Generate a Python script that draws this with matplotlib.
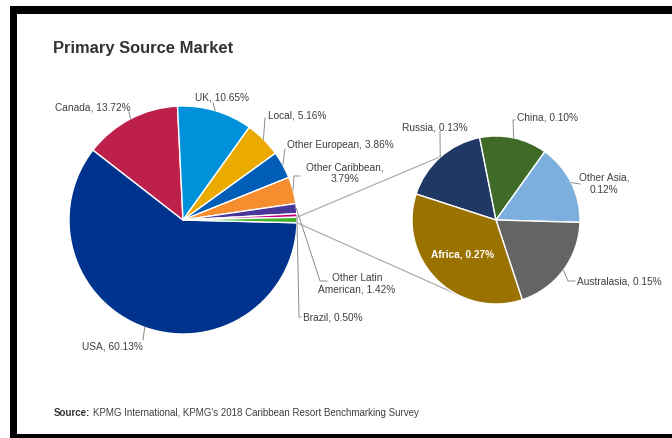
import numpy as np
import matplotlib.pyplot as plt
from matplotlib.patches import Rectangle

plt.rcParams['font.family'] = ['Liberation Sans', 'DejaVu Sans']

# ── data ────────────────────────────────────────────────────────
# main pie, clockwise; the split-off "Other" slice is the last one
main_labels = ["USA", "Canada", "UK", "Local", "Other European",
               "Other Caribbean", "Other Latin American", "Brazil"]
main_values = [60.13, 13.72, 10.65, 5.16, 3.86, 3.79, 1.42, 0.50]
main_colors = ["#00338D", "#BC204B", "#0091DA", "#EAAA00", "#005EB8",
               "#F68D2E", "#483698", "#C6007E"]
other_color = "#43B02A"

# second pie (breakdown of "Other"), clockwise
sub_labels = ["Russia", "China", "Other Asia", "Australasia", "Africa"]
sub_values = [0.13, 0.10, 0.12, 0.15, 0.27]
sub_colors = ["#203864", "#3F6A28", "#7DAFDE", "#646464", "#9A7200"]

# label text that wraps onto two lines
wrapped = {"Other Caribbean": "Other Caribbean,\n{v:.2f}%",
           "Other Latin American": "Other Latin\nAmerican, {v:.2f}%",
           "Other Asia": "Other Asia,\n{v:.2f}%"}

# ── layout (pixel coords, y down, converted below) ──────────────
W, H = 672, 439
# name: (text xy, ha, leader waypoints after the rim point)
main_pos = {
    "USA":                  ((143, 347), "right",  [(143, 341)]),
    "Canada":               ((55, 107),  "left",   [(129, 113)]),
    "UK":                   ((195, 98),  "left",   [(213, 104)]),
    "Local":                ((268, 116), "left",   [(265, 119)]),
    "Other European":       ((287, 145), "left",   [(285, 150)]),
    "Other Caribbean":      ((345, 173), "center", [(294, 177), (300, 177)]),
    "Other Latin American": ((357, 284), "center", [(320, 282), (327, 282)]),
    "Brazil":               ((303, 317), "left",   [(299, 318), (301, 318)]),
}
sub_pos = {
    "Russia":      ((435, 127), "center", [(440, 133)]),
    "China":       ((517, 118), "left",   [(513, 121), (515, 121)]),
    "Other Asia":  ((604, 184), "center", [(580, 185)]),
    "Australasia": ((577, 282), "left",   [(568, 282), (575, 282)]),
}


def px(p):
    return (p[0], H - p[1])


def rim(center, r, ang):
    a = np.radians(ang)
    return (center[0] + r * np.cos(a), center[1] + r * np.sin(a))


label_color = "#404040"
leader_color = "#8C8C8C"

fig = plt.figure(figsize=(W / 100, H / 100), dpi=100)
ax = fig.add_axes([0, 0, 1, 1])

main_c, main_r = px((183, 221)), 114
sub_c, sub_r = px((496, 221)), 84

other_value = sum(sub_values)
values = main_values + [other_value]
other_span = other_value / sum(values) * 360

wedges, _ = ax.pie(values, colors=main_colors + [other_color],
                   startangle=-other_span / 2, counterclock=False,
                   center=main_c, radius=main_r,
                   wedgeprops=dict(edgecolor="white", linewidth=1))

sub_wedges, _ = ax.pie(sub_values, colors=sub_colors, startangle=162,
                       counterclock=False, center=sub_c, radius=sub_r,
                       wedgeprops=dict(edgecolor="white", linewidth=1))

# series lines: edges of the "Other" slice to the second pie
ow = wedges[-1]
for ang, end_ang in [(ow.theta2, 95), (ow.theta1, -110)]:
    p = rim(main_c, main_r, ang)
    q = rim(sub_c, sub_r, end_ang)
    ax.plot([p[0], q[0]], [p[1], q[1]], color="#A6A6A6", lw=0.8, zorder=0.5)


def put_labels(wlist, names, vals, pos, center, r):
    for w, name, v in zip(wlist, names, vals):
        if name not in pos:
            continue
        txy, ha, way = pos[name]
        start = rim(center, r, (w.theta1 + w.theta2) / 2)
        pts = [start] + [px(q) for q in way]
        ax.plot([q[0] for q in pts], [q[1] for q in pts],
                color=leader_color, lw=0.7, zorder=3)
        s = wrapped.get(name, "{n}, {v:.2f}%").format(n=name, v=v)
        ax.text(*px(txy), s, ha=ha, va="center", fontsize=7.25,
                color=label_color, linespacing=1.25, zorder=4)


put_labels(wedges, main_labels, main_values, main_pos, main_c, main_r)
put_labels(sub_wedges, sub_labels, sub_values, sub_pos, sub_c, sub_r)

# Africa label sits inside its slice
aw = sub_wedges[sub_labels.index("Africa")]
ax.text(*rim(sub_c, sub_r * 0.56, (aw.theta1 + aw.theta2) / 2),
        f"Africa, {sub_values[-1]:.2f}%", ha="center", va="center",
        fontsize=7.25, color="white", fontweight="bold", zorder=4)

# title and source
ax.text(*px((53, 53)), "Primary Source Market", fontsize=11.9,
        fontweight="bold", color="#333333", va="baseline", ha="left")
ax.text(*px((54, 413)), "Source:", fontsize=7, fontweight="bold",
        color="#333333", va="center", ha="left")
ax.text(*px((93, 413)),
        "KPMG International, KPMG's 2018 Caribbean Resort Benchmarking Survey",
        fontsize=7, color="#404040", va="center", ha="left")

# black frame (top, left, bottom)
for x, y, w, h in [(10, 7, W - 10, 8), (10, 7, 7, H - 7), (10, 435, W - 10, 4)]:
    ax.add_patch(Rectangle((x, H - y - h), w, h, facecolor="black",
                           edgecolor="none", zorder=5))

ax.set_xlim(0, W)
ax.set_ylim(0, H)
ax.set_aspect("equal")
ax.set_axis_off()

fig.savefig("out.png", dpi=100)
